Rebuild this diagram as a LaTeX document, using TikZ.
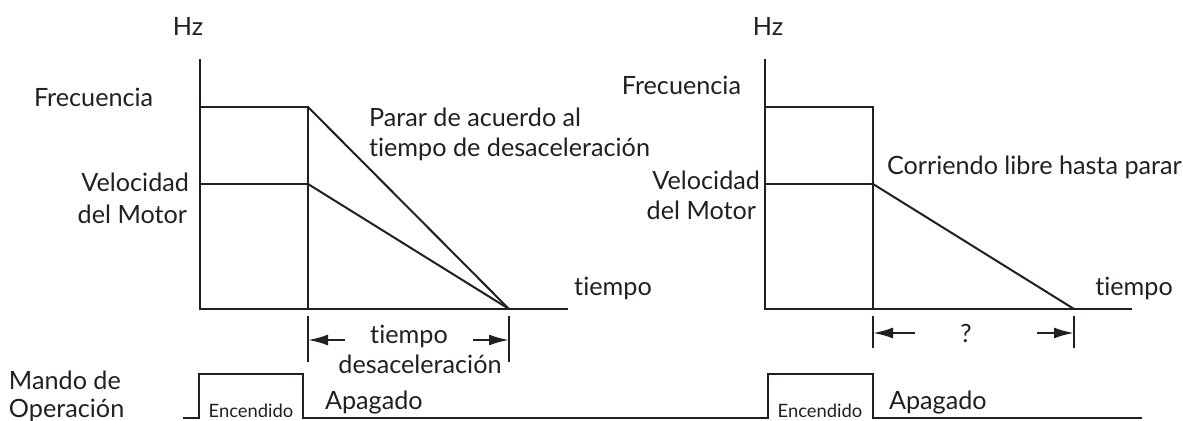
\documentclass[tikz,border=0pt]{standalone}
\usepackage{fontspec}
\setmainfont{Lato}[Ligatures={NoCommon}]
\usetikzlibrary{arrows.meta}
\definecolor{ink}{HTML}{231F20}
\begin{document}
\begin{tikzpicture}[x=0.5pt,y=-0.5pt, line width=1pt, draw=ink, text=ink,
  lbl/.style={inner sep=0pt, font=\fontsize{12.6}{15}\selectfont},
  smalllbl/.style={inner sep=0pt, font=\fontsize{9.2}{11}\selectfont},
  dimarrow/.style={-{Latex[length=10pt,width=5.5pt]}, line width=1.1pt},
  dimtick/.style={line width=0.9pt}]
\useasboundingbox (0,0) rectangle (1183,421);

% ---------- left chart ----------
\coordinate (Ltop) at (200,59);
\coordinate (L0) at (200,309);
\coordinate (Lend) at (568,309);
\coordinate (LF) at (200,107);
\coordinate (LV) at (200,184);
\coordinate (LBF) at (308,107);
\coordinate (LBV) at (308,184);
\coordinate (LB0) at (308,309);
\coordinate (LS) at (509,309);
\draw (Ltop) -- (L0) -- (Lend);
\draw (LF) -- (LBF) -- (LB0);
\draw (LV) -- (LBV);
\draw (LBF) -- (LS);
\draw (LBV) -- (LS);

% dimension
\coordinate (LT1a) at (308,316); \coordinate (LT1b) at (308,362);
\coordinate (LT2a) at (509,316); \coordinate (LT2b) at (509,362);
\draw[dimtick] (LT1a) -- (LT1b);
\draw[dimtick] (LT2a) -- (LT2b);
\coordinate (LA1s) at (345,340); \coordinate (LA1e) at (308,340);
\coordinate (LA2s) at (473,340); \coordinate (LA2e) at (509,340);
\draw[dimarrow] (LA1s) -- (LA1e);
\draw[dimarrow] (LA2s) -- (LA2e);

\node[lbl] (lhz) at (188,26) {Hz};
\node[lbl, anchor=west] (lfrec) at (33,97) {Frecuencia};
\node[lbl, anchor=east] (lvel) at (190,182) {Velocidad};
\node[lbl, anchor=east] (lmot) at (188,214) {del Motor};
\node[lbl, anchor=west, align=left] (lparar) at (368,134) {Parar de acuerdo al\\tiempo de desaceleración};
\node[lbl] (ltiempo) at (613,288) {tiempo};
\node[lbl] (ldim1) at (409,336) {tiempo};
\node[lbl] (ldim2) at (420,364) {desaceleración};

% ---------- right chart ----------
\coordinate (Rtop) at (765,59);
\coordinate (R0) at (765,309);
\coordinate (Rend) at (1132,309);
\coordinate (RF) at (765,107);
\coordinate (RV) at (765,184);
\coordinate (RBF) at (873,107);
\coordinate (RBV) at (873,184);
\coordinate (RB0) at (873,309);
\coordinate (RS) at (1074,309);
\draw (Rtop) -- (R0) -- (Rend);
\draw (RF) -- (RBF) -- (RB0);
\draw (RV) -- (RBV);
\draw (RBV) -- (RS);

\coordinate (RT1a) at (873,316); \coordinate (RT1b) at (873,348);
\coordinate (RT2a) at (1074,316); \coordinate (RT2b) at (1074,348);
\draw[dimtick] (RT1a) -- (RT1b);
\draw[dimtick] (RT2a) -- (RT2b);
\coordinate (RA1s) at (915,333); \coordinate (RA1e) at (873,333);
\coordinate (RA2s) at (1037,333); \coordinate (RA2e) at (1074,333);
\draw[dimarrow] (RA1s) -- (RA1e);
\draw[dimarrow] (RA2s) -- (RA2e);

\node[lbl] (rhz) at (768,26) {Hz};
\node[lbl, anchor=east] (rfrec) at (742,85) {Frecuencia};
\node[lbl, anchor=east] (rvel) at (761,180) {Velocidad};
\node[lbl, anchor=east] (rmot) at (757,210) {del Motor};
\node[lbl, anchor=west] (rcorr) at (886,167) {Corriendo libre hasta parar};
\node[lbl] (rtiempo) at (1134,288) {tiempo};
\node[lbl] (rq) at (966,333) {?};

% ---------- command signal ----------
\coordinate (P0) at (183,418);
\coordinate (P1) at (199,418);
\coordinate (P2) at (199,374);
\coordinate (P3) at (303,374);
\coordinate (P4) at (303,418);
\coordinate (P5) at (768,418);
\coordinate (P6) at (768,374);
\coordinate (P7) at (873,374);
\coordinate (P8) at (873,418);
\coordinate (P9) at (1142,418);
\draw (P0) -- (P1) -- (P2) -- (P3) -- (P4) -- (P5) -- (P6) -- (P7) -- (P8) -- (P9);

\node[lbl, anchor=west] (mando1) at (8,380) {Mando de};
\node[lbl, anchor=west] (mando2) at (8,410) {Operación};
\node[smalllbl] (enc1) at (251,411) {Encendido};
\node[lbl, anchor=west] (apa1) at (324,403) {Apagado};
\node[smalllbl] (enc2) at (820,411) {Encendido};
\node[lbl, anchor=west] (apa2) at (888,403) {Apagado};
\end{tikzpicture}
\end{document}
